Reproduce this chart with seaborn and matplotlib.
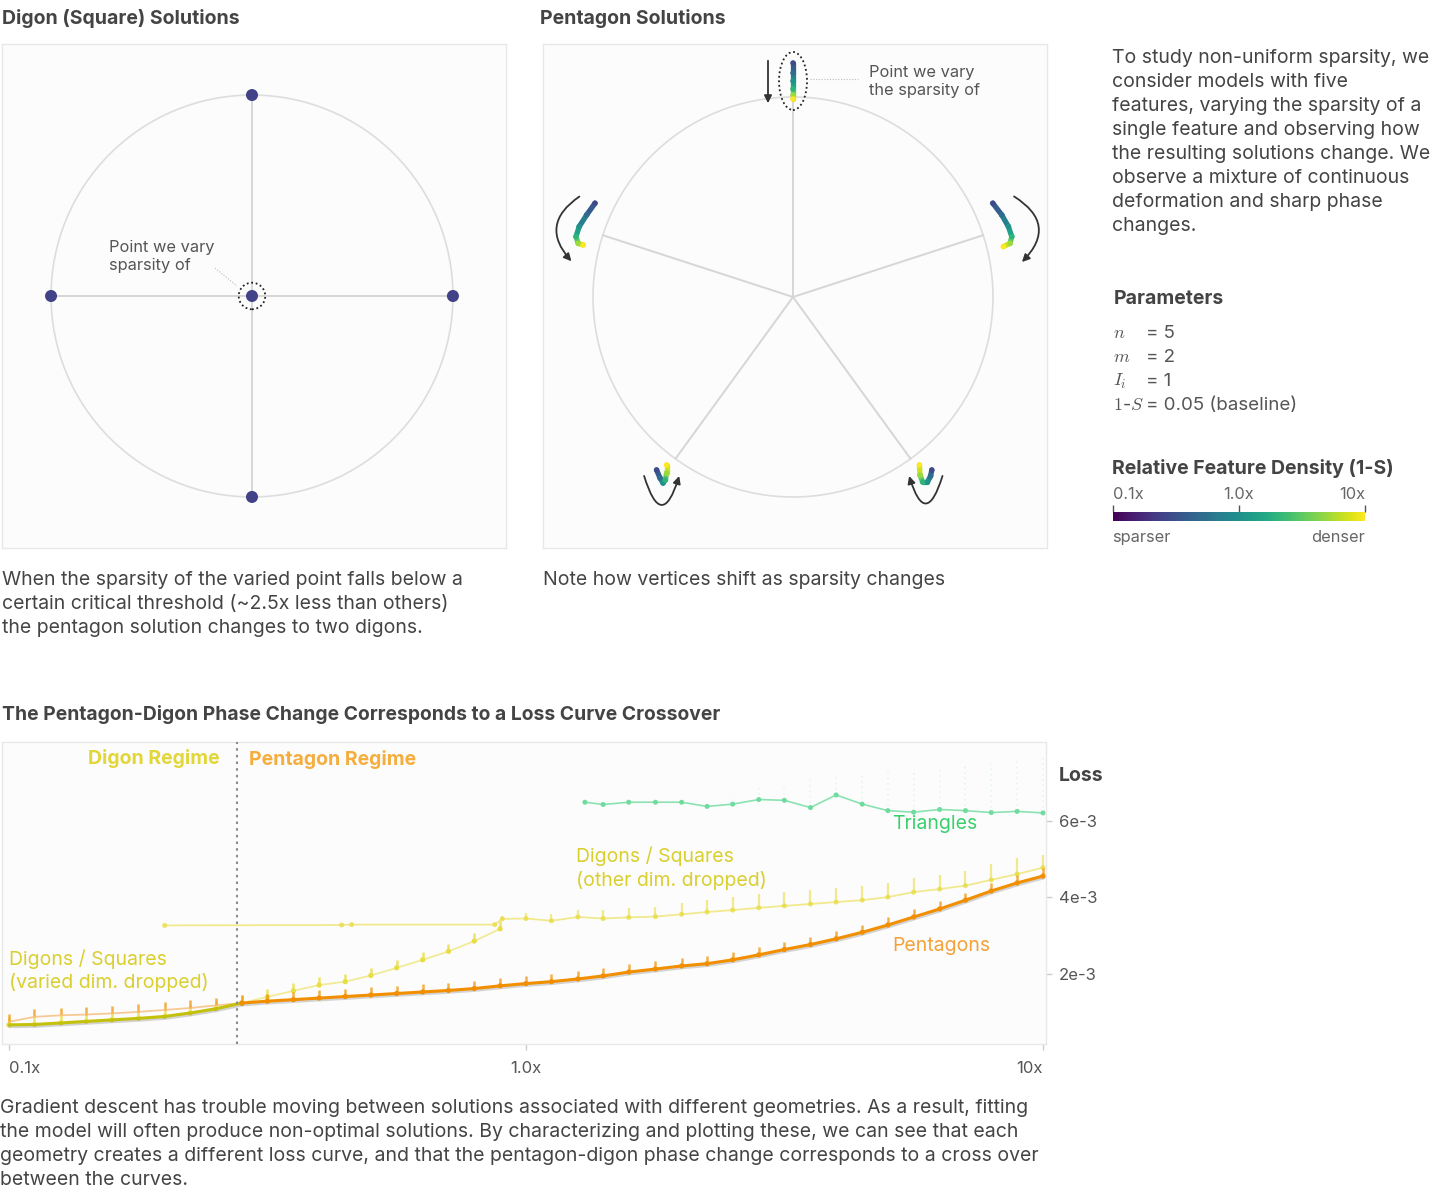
import numpy as np
import pandas as pd
import matplotlib
matplotlib.use('Agg')
import matplotlib.pyplot as plt
import matplotlib.patheffects as pe
from matplotlib.patches import Circle, Ellipse, FancyArrowPatch
from matplotlib.collections import LineCollection
from matplotlib.colors import LogNorm
import matplotlib.colorbar as mcb
import seaborn as sns

# ---------------- data ----------------
# digon (square) solution: four vertices + the varied point at the centre
digon_x = [0.0, 0.0, -1.0, 1.0, 0.0]
digon_y = [1.0, -1.0, 0.0, 0.0, 0.0]
digon_density = 0.25

# pentagon solution: spokes and vertex trajectories as sparsity changes
pentagon_angle = [90, 18, -54, -126, 162]
traj_density = [0.28, 0.5, 1.0, 2.0, 5.0, 10.0]
top_x = [0.0, 0.0, 0.0, 0.0, 0.0, 0.0]
top_y = [1.17, 1.12, 1.08, 1.04, 1.01, 0.99]
upper_left_x = [-0.99, -1.032, -1.069, -1.085, -1.074, -1.049]
upper_left_y = [0.469, 0.41, 0.352, 0.302, 0.268, 0.26]
upper_right_x = [0.999, 1.044, 1.077, 1.094, 1.085, 1.052]
upper_right_y = [0.469, 0.41, 0.352, 0.302, 0.268, 0.252]
lower_left_x = [-0.682, -0.665, -0.65, -0.638, -0.632, -0.632]
lower_left_y = [-0.865, -0.905, -0.93, -0.915, -0.88, -0.84]
lower_right_x = [0.694, 0.688, 0.672, 0.648, 0.635, 0.632]
lower_right_y = [-0.865, -0.895, -0.925, -0.925, -0.89, -0.84]

# loss curves (loss in units of 1e-3)
density = [0.1, 0.112, 0.126, 0.141, 0.158, 0.178, 0.2, 0.224, 0.251, 0.282,
           0.316, 0.355, 0.398, 0.447, 0.501, 0.562, 0.631, 0.708, 0.794, 0.891,
           1.0, 1.12, 1.26, 1.41, 1.58, 1.78, 2.0, 2.24, 2.51, 2.82,
           3.16, 3.55, 3.98, 4.47, 5.01, 5.62, 6.31, 7.08, 7.94, 8.91, 10.0]
pentagon_loss = [0.75, 0.88, 0.92, 0.94, 0.97, 1.01, 1.06, 1.11, 1.18, 1.24,
                 1.29, 1.33, 1.37, 1.41, 1.45, 1.49, 1.53, 1.57, 1.62, 1.69,
                 1.75, 1.80, 1.87, 1.95, 2.05, 2.13, 2.21, 2.27, 2.37, 2.50,
                 2.64, 2.77, 2.92, 3.09, 3.28, 3.49, 3.70, 3.93, 4.17, 4.38, 4.56]
digon_varied_loss = [0.67, 0.68, 0.72, 0.76, 0.80, 0.84, 0.89, 0.98, 1.09, 1.24,
                     1.40, 1.56, 1.71, 1.80, 1.96, 2.16, 2.37, 2.59, 2.86, 3.18]
digon_other_density = [0.2, 0.44, 0.46, 0.87, 0.9, 1.0, 1.12, 1.26, 1.41, 1.58,
                       1.78, 2.0, 2.24, 2.51, 2.82, 3.16, 3.55, 3.98, 4.47, 5.01,
                       5.62, 6.31, 7.08, 7.94, 8.91, 10.0]
digon_other_loss = [3.27, 3.28, 3.29, 3.29, 3.44, 3.45, 3.39, 3.49, 3.45, 3.48,
                    3.50, 3.56, 3.62, 3.67, 3.73, 3.78, 3.83, 3.88, 3.93, 4.01,
                    4.14, 4.22, 4.31, 4.46, 4.61, 4.78]
digon_other_upper = [3.27, 3.28, 3.29, 3.29, 3.52, 3.60, 3.58, 3.66, 3.66, 3.72,
                     3.76, 3.86, 3.94, 4.00, 4.08, 4.15, 4.20, 4.26, 4.31, 4.39,
                     4.52, 4.60, 4.70, 4.88, 5.02, 5.12]
triangle_density = [1.3, 1.41, 1.58, 1.78, 2.0, 2.24, 2.51, 2.82, 3.16, 3.55,
                    3.98, 4.47, 5.01, 5.62, 6.31, 7.08, 7.94, 8.91, 10.0]
triangle_loss = [6.49, 6.43, 6.49, 6.49, 6.49, 6.38, 6.44, 6.56, 6.54, 6.35,
                 6.68, 6.44, 6.27, 6.23, 6.30, 6.27, 6.22, 6.25, 6.21]
triangle_upper = [6.49, 6.43, 6.49, 6.49, 6.49, 6.45, 6.60, 6.85, 6.95, 7.10,
                  7.20, 7.25, 7.30, 7.35, 7.40, 7.45, 7.50, 7.60, 7.72]
phase_boundary = 0.276

# ---------------- style ----------------
sns.set_theme(style='white')
plt.rcParams['font.family'] = ['Inter', 'DejaVu Sans']
plt.rcParams['mathtext.fontset'] = 'cm'

W, H = 1454, 1200
fig = plt.figure(figsize=(W / 100, H / 100), dpi=100)
fig.patch.set_facecolor('white')

TXT = '#444444'
FS = 14
norm = LogNorm(0.1, 10)
viridis = plt.cm.viridis


def fx(x):
    return x / W


def fy(y):
    return 1 - y / H


def ftext(x, y, s, **kw):
    # text centred 2px lower than the nominal line position
    kw.setdefault('va', 'center')
    return fig.text(fx(x), fy(y + 2), s, **kw)


def panel(x0, y0, w, h):
    ax = fig.add_axes([fx(x0), fy(y0 + h), w / W, h / H])
    ax.set_facecolor('#fcfcfc')
    for s in ax.spines.values():
        s.set_color('#e8e8e8')
        s.set_linewidth(1)
    ax.set_xticks([])
    ax.set_yticks([])
    return ax


def para(x, y0, lines, step=24, **kw):
    for i, line in enumerate(lines):
        ftext(x, y0 + i * step, line, ha='left', **kw)


# ---------------- digon panel ----------------
ftext(2, 17, 'Digon (Square) Solutions', fontsize=FS, fontweight='bold', color=TXT)
ax1 = panel(2, 44, 504, 504)
ax1.set_xlim(-1.244, 1.264)
ax1.set_ylim(-1.254, 1.254)
ax1.add_patch(Circle((0, 0), 1, fill=False, ec='#dddddd', lw=1.2, zorder=1))
for x, y in zip(digon_x, digon_y):
    ax1.plot([0, x], [0, y], color='#d6d6d6', lw=1.4, zorder=1)
sns.scatterplot(x=digon_x, y=digon_y, ax=ax1, s=75, color=viridis(norm(digon_density)),
                edgecolor='none', zorder=3, legend=False)
ax1.add_patch(Circle((0, 0), 0.066, fill=False, ec='#222222', lw=1.3, ls=(0, (1, 1.5)), zorder=4))
ax1.plot([-0.184, -0.075], [0.139, 0.05], color='#bbbbbb', lw=0.8, ls=(0, (1, 1.5)))
ax1.text(-0.711, 0.198, 'Point we vary\nsparsity of', fontsize=11.8, color='#555555',
         va='center', ha='left', linespacing=1.25)
ax1.set_xticks([])
ax1.set_yticks([])

# ---------------- pentagon panel ----------------
ftext(540, 17, 'Pentagon Solutions', fontsize=FS, fontweight='bold', color=TXT)
ax2 = panel(543, 44, 504, 504)
ax2.set_xlim(-1.25, 1.27)
ax2.set_ylim(-1.255, 1.265)
ax2.add_patch(Circle((0, 0), 1, fill=False, ec='#dddddd', lw=1.2, zorder=1))
for a in pentagon_angle:
    r = np.deg2rad(a)
    ax2.plot([0, np.cos(r)], [0, np.sin(r)], color='#d6d6d6', lw=1.4, zorder=1)

trajectories = [(top_x, top_y), (upper_left_x, upper_left_y), (upper_right_x, upper_right_y),
                (lower_left_x, lower_left_y), (lower_right_x, lower_right_y)]
td = np.array(traj_density)
mids = np.sqrt(td[:-1] * td[1:])
for tx, ty in trajectories:
    pts = np.column_stack([tx, ty])
    segs = np.stack([pts[:-1], pts[1:]], axis=1)
    lc = LineCollection(segs, colors=viridis(norm(mids)), linewidth=3.8, capstyle='round', zorder=3)
    ax2.add_collection(lc)
    sns.scatterplot(x=tx, y=ty, hue=traj_density, palette='viridis', hue_norm=norm, s=16,
                    edgecolor='none', ax=ax2, legend=False, zorder=4)

ax2.add_patch(Ellipse((0, 1.08), 0.14, 0.29, fill=False, ec='#222222', lw=1.3,
                      ls=(0, (1, 1.5)), zorder=5))
ax2.plot([0.085, 0.325], [1.09, 1.09], color='#bbbbbb', lw=0.8, ls=(0, (1, 1.5)))
ax2.text(0.38, 1.075, 'Point we vary\nthe sparsity of', fontsize=11.8, color='#555555',
         va='center', ha='left', linespacing=1.25)

arrow_kw = dict(arrowstyle='-|>', mutation_scale=11, lw=1.3, color='#333333', zorder=5)
ax2.add_patch(FancyArrowPatch((-0.125, 1.195), (-0.125, 0.955), **arrow_kw))
ax2.add_patch(FancyArrowPatch((-1.0565, 0.51), (-1.0985, 0.1685),
                              connectionstyle='arc3,rad=0.6', **arrow_kw))
ax2.add_patch(FancyArrowPatch((1.0935, 0.51), (1.135, 0.165),
                              connectionstyle='arc3,rad=-0.65', **arrow_kw))
ax2.add_patch(FancyArrowPatch((-0.7485, -0.8815), (-0.565, -0.8815),
                              connectionstyle='arc3,rad=1.7', **arrow_kw))
ax2.add_patch(FancyArrowPatch((0.7515, -0.8815), (0.5765, -0.8815),
                              connectionstyle='arc3,rad=-1.7', **arrow_kw))
ax2.set_xticks([])
ax2.set_yticks([])

# captions
para(2, 578, ['When the sparsity of the varied point falls below a',
              'certain critical threshold (~2.5x less than others)',
              'the pentagon solution changes to two digons.'], fontsize=FS, color=TXT)
para(543, 578, ['Note how vertices shift as sparsity changes'], fontsize=FS, color=TXT)

# ---------------- right column ----------------
para(1112, 56, ['To study non-uniform sparsity, we',
                'consider models with five',
                'features, varying the sparsity of a',
                'single feature and observing how',
                'the resulting solutions change. We',
                'observe a mixture of continuous',
                'deformation and sharp phase',
                'changes.'], fontsize=FS, color=TXT)
ftext(1114, 297, 'Parameters', fontsize=FS, fontweight='bold', color=TXT)
params = [(r'$n$', '= 5'), (r'$m$', '= 2'), (r'$I_i$', '= 1'), (r'$1$-$S$', '= 0.05 (baseline)')]
for i, (sym, val) in enumerate(params):
    yy = [331, 355, 379, 404][i]
    ftext(1113, yy, sym, fontsize=13, color='#555555')
    ftext(1146, yy, val, fontsize=13.5, color='#555555')

ftext(1112, 466, 'Relative Feature Density (1-S)', fontsize=FS, fontweight='bold', color=TXT)
cax = fig.add_axes([fx(1113), fy(521), 252 / W, 9 / H])
cb = mcb.ColorbarBase(cax, cmap='viridis', norm=norm, orientation='horizontal')
cb.outline.set_visible(False)
cax.minorticks_off()
cax.xaxis.set_ticks_position('top')
cax.set_xticks([0.1, 1, 10])
cax.set_xticklabels(['0.1x', '1.0x', '10x'])
cax.tick_params(axis='x', top=True, bottom=False, length=5, width=1, color='#555555',
                labelsize=11.8, labelcolor='#666666', pad=2, direction='out')
labs = cax.get_xticklabels()
labs[0].set_ha('left')
labs[-1].set_ha('right')
ftext(1112, 536, 'sparser', fontsize=11.8, color='#666666')
ftext(1365, 536, 'denser', fontsize=11.8, color='#666666', ha='right')

# ---------------- loss chart ----------------
ftext(2, 713, 'The Pentagon-Digon Phase Change Corresponds to a Loss Curve Crossover',
      fontsize=13.9, fontweight='bold', color=TXT)
ax3 = panel(2, 742, 1044, 302)
ax3.set_xscale('log')
ax3.set_xlim(0.09693, 10.134)
ax3.set_ylim(0.17e-3, 8.064e-3)

pent = pd.DataFrame({'density': density, 'loss': np.array(pentagon_loss) * 1e-3})
digv = pd.DataFrame({'density': density[:len(digon_varied_loss)],
                     'loss': np.array(digon_varied_loss) * 1e-3})
digo = pd.DataFrame({'density': digon_other_density, 'loss': np.array(digon_other_loss) * 1e-3,
                     'upper': np.array(digon_other_upper) * 1e-3})
tri = pd.DataFrame({'density': triangle_density, 'loss': np.array(triangle_loss) * 1e-3,
                    'upper': np.array(triangle_upper) * 1e-3})
cut = int(np.searchsorted(density, phase_boundary))

C_PENT = '#f28f00'
C_DIG = '#e9dd45'
C_TRI = '#6fdc9f'
shadow = [pe.SimpleLineShadow(offset=(0.6, -1.3), shadow_color='#777777', alpha=0.3), pe.Normal()]
dash = 0.2e-3

# triangles
ax3.vlines(tri.density, tri.loss, tri.upper, color=C_TRI, lw=1.1, alpha=0.2, ls=(0, (1, 2.5)))
sns.lineplot(data=tri, x='density', y='loss', ax=ax3, color=C_TRI, lw=1.2, alpha=0.8,
             estimator=None, sort=False)
sns.scatterplot(data=tri, x='density', y='loss', ax=ax3, color=C_TRI, s=13, edgecolor='none',
                legend=False)

# digons, other dim dropped
ax3.vlines(digo.density, digo.loss, digo.upper, color=C_DIG, lw=1.6, alpha=0.6)
sns.lineplot(data=digo, x='density', y='loss', ax=ax3, color=C_DIG, lw=1.3, alpha=0.6,
             estimator=None, sort=False)
sns.scatterplot(data=digo, x='density', y='loss', ax=ax3, color=C_DIG, s=13, edgecolor='none',
                alpha=0.8, legend=False)

# digons, varied dim dropped
ax3.vlines(digv.density, digv.loss, digv.loss + dash, color=C_DIG, lw=1.8, alpha=0.8)
sns.lineplot(data=digv, x='density', y='loss', ax=ax3, color=C_DIG, lw=1.3, alpha=0.55,
             estimator=None, sort=False)
sns.scatterplot(data=digv, x='density', y='loss', ax=ax3, color=C_DIG, s=14, edgecolor='none',
                legend=False)

# pentagons
ax3.vlines(pent.density, pent.loss, pent.loss + dash, color=C_PENT, lw=1.8, alpha=0.7)
sns.lineplot(data=pent.iloc[:cut + 1], x='density', y='loss', ax=ax3, color='#f6bd7a', lw=1.3,
             alpha=0.8, estimator=None, sort=False)

# best solution in each regime
sns.lineplot(data=digv.iloc[:cut + 1], x='density', y='loss', ax=ax3, color='#c4c10c', lw=2.2,
             estimator=None, sort=False, path_effects=shadow)
sns.lineplot(data=pent.iloc[cut:], x='density', y='loss', ax=ax3, color=C_PENT, lw=2.2,
             estimator=None, sort=False, path_effects=shadow)
sns.scatterplot(data=pent.iloc[cut:], x='density', y='loss', ax=ax3, color=C_PENT, s=14,
                edgecolor='none', legend=False, zorder=5)

ax3.axvline(phase_boundary, color='#8c8c8c', lw=1.5, ls=(0, (1.2, 2)), zorder=6)

ax3.text(0.256, 7.63e-3, 'Digon Regime', fontsize=FS, fontweight='bold', color='#e2d638',
         ha='right', va='center')
ax3.text(0.291, 7.61e-3, 'Pentagon Regime', fontsize=FS, fontweight='bold', color='#f5ae3d',
         ha='left', va='center')
ax3.text(0.1, 2.09e-3, 'Digons / Squares\n(varied dim. dropped)', fontsize=FS, color='#d9cf2e',
         ha='left', va='center', linespacing=1.3)
ax3.text(1.249, 4.76e-3, 'Digons / Squares\n(other dim. dropped)', fontsize=FS, color='#d9cf2e',
         ha='left', va='center', linespacing=1.3)
ax3.text(5.11, 5.91e-3, 'Triangles', fontsize=FS, color='#3ccf6e', ha='left', va='center')
ax3.text(5.11, 2.74e-3, 'Pentagons', fontsize=FS, color='#f2a23a', ha='left', va='center')

ax3.set_xlabel('')
ax3.set_ylabel('')
ax3.minorticks_off()
ax3.set_xticks([0.1, 1, 10])
ax3.set_xticklabels(['0.1x', '1.0x', '10x'])
ax3.yaxis.tick_right()
ax3.set_yticks([2e-3, 4e-3, 6e-3])
ax3.set_yticklabels(['2e-3', '4e-3', '6e-3'])
ax3.tick_params(axis='x', bottom=True, length=4.3, width=1, color='#cccccc', labelsize=12,
                labelcolor='#555555', pad=8, direction='out')
ax3.tick_params(axis='y', right=True, left=False, length=4.3, width=1, color='#cccccc',
                labelsize=12, labelcolor='#555555', pad=5, direction='out')
xl = ax3.get_xticklabels()
xl[0].set_ha('left')
xl[-1].set_ha('right')
ftext(1059, 774, 'Loss', fontsize=FS, fontweight='bold', color=TXT)

para(0, 1106, ['Gradient descent has trouble moving between solutions associated with different geometries. As a result, fitting',
               'the model will often produce non-optimal solutions. By characterizing and plotting these, we can see that each',
               'geometry creates a different loss curve, and that the pentagon-digon phase change corresponds to a cross over',
               'between the curves.'], fontsize=FS, color=TXT)

fig.savefig('out.png', dpi=100, facecolor='white')
